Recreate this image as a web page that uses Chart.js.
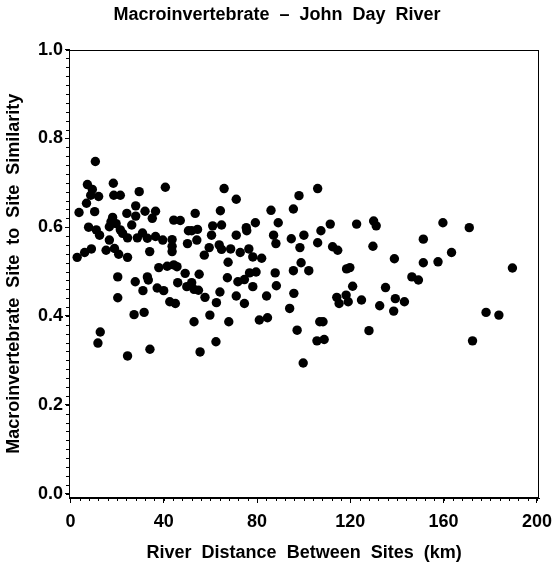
<!DOCTYPE html>
<html>
<head>
<meta charset="utf-8">
<script src="https://cdn.jsdelivr.net/npm/chart.js@4.4.1/dist/chart.umd.min.js"></script>
<style>
  html, body { margin: 0; padding: 0; background: #fff; }
</style>
</head>
<body>
<canvas id="myChart" width="560" height="570"></canvas>
<script>
    // Distancia entre sitios (km)
    var distances = [
        10.7, 7.3, 9.4, 18.4, 8.7, 12.1, 18.6, 21.4, 29.5, 40.7,
        6.9, 3.7, 10.4, 28.0, 24.2, 28.0, 32.0, 36.5, 35.1, 18.1,
        17.4, 44.3, 47.1, 7.8, 11.1, 12.5, 16.7, 19.6, 21.4, 22.4,
        26.3, 24.5, 16.7, 28.7, 30.9, 33.0, 36.5, 39.6, 43.6, 43.6,
        43.6, 34.0, 2.9, 6.1, 9.0, 15.3, 18.9, 20.7, 24.5, 37.9,
        41.5, 44.3, 45.7, 49.2, 20.3, 33.0, 33.4, 27.8, 31.1, 37.2,
        40.0, 46.0, 49.9, 20.3, 42.6, 45.0, 27.3, 31.6, 12.8, 11.8,
        24.5, 34.1, 50.6, 50.2,
        65.9, 71.1, 53.5, 64.3, 52.0, 54.5, 54.2, 61.0, 64.8, 60.5,
        59.5, 57.4, 63.8, 64.8, 68.7, 71.1, 75.4, 75.6, 79.3, 72.8,
        76.5, 78.2, 82.0, 67.6, 86.0, 89.1, 87.1, 88.1, 95.6, 98.0,
        94.7, 98.4, 100.1, 98.9, 55.2, 52.0, 53.0, 54.9, 57.7, 59.8,
        53.0, 62.6, 64.1, 67.3, 71.1, 71.8, 74.6, 76.8, 79.6, 78.2,
        74.6, 67.9, 62.4, 55.6, 81.0, 84.5, 84.1, 87.8, 88.3, 95.6,
        95.8, 94.0, 97.2, 99.8,
        106.0, 102.2, 106.0, 107.4, 111.4, 122.7, 130.0, 131.1, 112.4, 114.6,
        129.7, 138.9, 151.3, 151.3, 118.4, 119.8, 121.0, 114.2, 115.2, 118.2,
        119.1, 124.8, 135.1, 132.6, 139.3, 143.2, 138.6, 146.4, 149.2, 128.0,
        106.9, 108.3, 105.7, 108.8,
        159.7, 171.0, 163.4, 157.6, 189.5, 178.2, 183.7, 172.4
    ];
    // Similitud entre sitios
    var similarity = [
        0.748, 0.696, 0.685, 0.699, 0.672, 0.669, 0.672, 0.672, 0.680, 0.690,
        0.654, 0.633, 0.635, 0.648, 0.631, 0.625, 0.636, 0.636, 0.620, 0.622,
        0.612, 0.616, 0.615, 0.600, 0.594, 0.582, 0.601, 0.608, 0.594, 0.586,
        0.605, 0.576, 0.571, 0.576, 0.587, 0.575, 0.579, 0.571, 0.572, 0.557,
        0.545, 0.545, 0.532, 0.543, 0.551, 0.548, 0.552, 0.539, 0.532, 0.509,
        0.512, 0.515, 0.511, 0.496, 0.488, 0.488, 0.481, 0.477, 0.457, 0.463,
        0.457, 0.475, 0.466, 0.441, 0.432, 0.428, 0.403, 0.408, 0.364, 0.339,
        0.310, 0.325, 0.592, 0.563,
        0.687, 0.663, 0.631, 0.637, 0.592, 0.595, 0.571, 0.603, 0.605, 0.582,
        0.554, 0.537, 0.560, 0.550, 0.551, 0.582, 0.599, 0.592, 0.610, 0.543,
        0.551, 0.533, 0.530, 0.521, 0.638, 0.610, 0.582, 0.563, 0.641, 0.671,
        0.574, 0.554, 0.582, 0.520, 0.494, 0.475, 0.460, 0.458, 0.442, 0.402,
        0.387, 0.430, 0.454, 0.486, 0.445, 0.477, 0.482, 0.497, 0.499, 0.466,
        0.428, 0.387, 0.342, 0.319, 0.391, 0.396, 0.445, 0.497, 0.468, 0.502,
        0.451, 0.417, 0.368, 0.294,
        0.687, 0.502, 0.565, 0.592, 0.607, 0.607, 0.614, 0.603, 0.556, 0.548,
        0.557, 0.529, 0.573, 0.520, 0.506, 0.509, 0.467, 0.442, 0.428, 0.447,
        0.432, 0.436, 0.464, 0.423, 0.439, 0.432, 0.411, 0.488, 0.481, 0.367,
        0.387, 0.387, 0.344, 0.347,
        0.610, 0.599, 0.543, 0.522, 0.508, 0.408, 0.402, 0.344
    ];
    var xTicks = [0, 40, 80, 120, 160, 200];
    var yTicks = [0.0, 0.2, 0.4, 0.6, 0.8, 1.0];
    var xMinorStep = 4;
    var yMinorStep = 0.02;

    var font = "'Liberation Sans', Arial, sans-serif";

    // Marco y marcas menores
    var frameAndMinor = {
        id: 'frameAndMinor',
        afterDraw: function (chart) {
            var ctx = chart.ctx, a = chart.chartArea;
            var xs = chart.scales.x, ys = chart.scales.y;
            ctx.save();
            ctx.strokeStyle = '#000';
            ctx.lineWidth = 1;
            ctx.strokeRect(Math.round(a.left) + 0.5, Math.round(a.top) + 0.5,
                Math.round(a.right - a.left) - 1, Math.round(a.bottom - a.top) - 1);
            ctx.beginPath();
            for (var v = xTicks[0]; v <= xTicks[xTicks.length - 1]; v += xMinorStep) {
                var px = Math.round(xs.getPixelForValue(v)) + 0.5;
                ctx.moveTo(px, a.bottom);
                ctx.lineTo(px, a.bottom + 3);
            }
            for (var i = 0; i <= Math.round(1 / yMinorStep); i++) {
                var py = Math.round(ys.getPixelForValue(i * yMinorStep)) + 0.5;
                ctx.moveTo(a.left, py);
                ctx.lineTo(a.left - 3, py);
            }
            ctx.stroke();
            ctx.restore();
        }
    };

    var data = {
        datasets: [{
            data: distances.map(function (d, i) { return { x: d, y: similarity[i] }; }),
            backgroundColor: '#000',
            borderWidth: 0,
            pointRadius: 4.7,
            pointHoverRadius: 4.7
        }]
    };

    var config = {
        type: 'scatter',
        data: data,
        options: {
            responsive: false,
            animation: false,
            layout: { padding: { left: 9, right: 15, top: 0, bottom: 0 } },
            plugins: {
                legend: { display: false },
                tooltip: { enabled: false },
                title: {
                    display: true,
                    text: 'Macroinvertebrate  \u2013  John  Day  River',
                    color: '#000',
                    font: { family: font, size: 18, weight: 'bold' },
                    padding: { top: 4, bottom: 24 }
                }
            },
            scales: {
                x: {
                    type: 'linear',
                    min: -0.6,
                    max: 201,
                    afterBuildTicks: function (s) { s.ticks = xTicks.map(function (v) { return { value: v }; }); },
                    afterFit: function (s) { s.height = 72; },
                    ticks: {
                        color: '#000',
                        font: { family: font, size: 18, weight: 'bold' },
                        padding: 8,
                        maxRotation: 0
                    },
                    grid: { drawOnChartArea: false, tickLength: 5, tickColor: '#000', color: '#000' },
                    border: { display: true, color: '#000' },
                    title: {
                        display: true,
                        text: 'River  Distance  Between  Sites  (km)',
                        color: '#000',
                        font: { family: font, size: 18, weight: 'bold' },
                        padding: { top: 0, bottom: 6 }
                    }
                },
                y: {
                    type: 'linear',
                    min: -0.01,
                    max: 1.0,
                    afterBuildTicks: function (s) { s.ticks = yTicks.map(function (v) { return { value: v }; }); },
                    afterFit: function (s) { s.width = 60; },
                    ticks: {
                        color: '#000',
                        font: { family: font, size: 18, weight: 'bold' },
                        padding: 2,
                        callback: function (v) { return v.toFixed(1); }
                    },
                    grid: { drawOnChartArea: false, tickLength: 4, tickColor: '#000', color: '#000' },
                    border: { display: true, color: '#000' },
                    title: {
                        display: true,
                        text: 'Macroinvertebrate  Site  to  Site  Similarity',
                        color: '#000',
                        font: { family: font, size: 18, weight: 'bold' },
                        padding: { top: -6, bottom: 0 }
                    }
                }
            }
        },
        plugins: [frameAndMinor]
    };

    var myChart = new Chart(document.getElementById('myChart'), config);
</script>
</body>
</html>
